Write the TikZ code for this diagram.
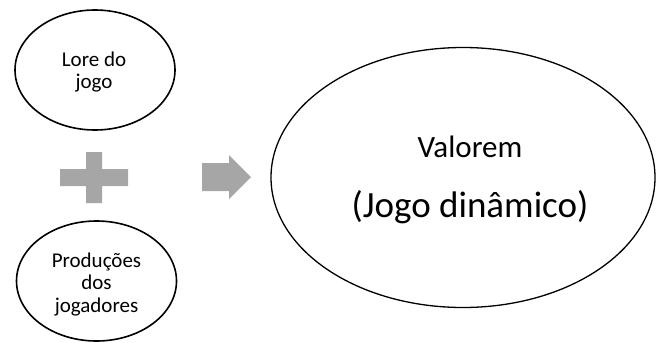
\documentclass[tikz,border=0pt]{standalone}
\usepackage{fontspec}
\setmainfont{Carlito}
\usetikzlibrary{shapes.geometric}
\definecolor{symgray}{HTML}{A6A6A6}
\begin{document}
\begin{tikzpicture}[x=1pt,y=-1pt,
  smallell/.style={draw=black,line width=1.6pt,ellipse,inner sep=0pt,
    minimum width=160pt,minimum height=120pt},
  bigell/.style={draw=black,line width=1.3pt,ellipse,inner sep=0pt,
    minimum width=384pt,minimum height=260pt},
  smalltext/.style={align=center,inner sep=0pt,font=\fontsize{21}{22.5}\selectfont},
  sym/.style={fill=symgray,draw=none}]
\useasboundingbox (0,0) rectangle (657,343);
\node[smallell] (lore) at (95,70) {};
\node[smalltext,anchor=base] (loret) at (94,88.5) {Lore do\\jogo};
\node[smallell] (prod) at (96.5,281) {};
\node[smalltext,anchor=base] (prodt) at (96.5,312) {Produções\\dos\\jogadores};
\node[bigell] (val) at (463,177.5) {};
\node[anchor=base,inner sep=0pt,font=\fontsize{31}{37}\selectfont] (valt) at (470,157) {Valorem};
\node[anchor=base,inner sep=0pt,font=\fontsize{37}{44}\selectfont] (jogo) at (470,217) {(Jogo dinâmico)};
% plus sign
\fill[sym] (60,169) -- (86,169) -- (86,152) -- (102,152) -- (102,169) -- (128,169)
  -- (128,186) -- (102,186) -- (102,203) -- (86,203) -- (86,186) -- (60,186) -- cycle;
% arrow
\fill[sym] (202,163) -- (229,163) -- (229,155) -- (251,177) -- (229,199) -- (229,191)
  -- (202,191) -- cycle;
\end{tikzpicture}
\end{document}
